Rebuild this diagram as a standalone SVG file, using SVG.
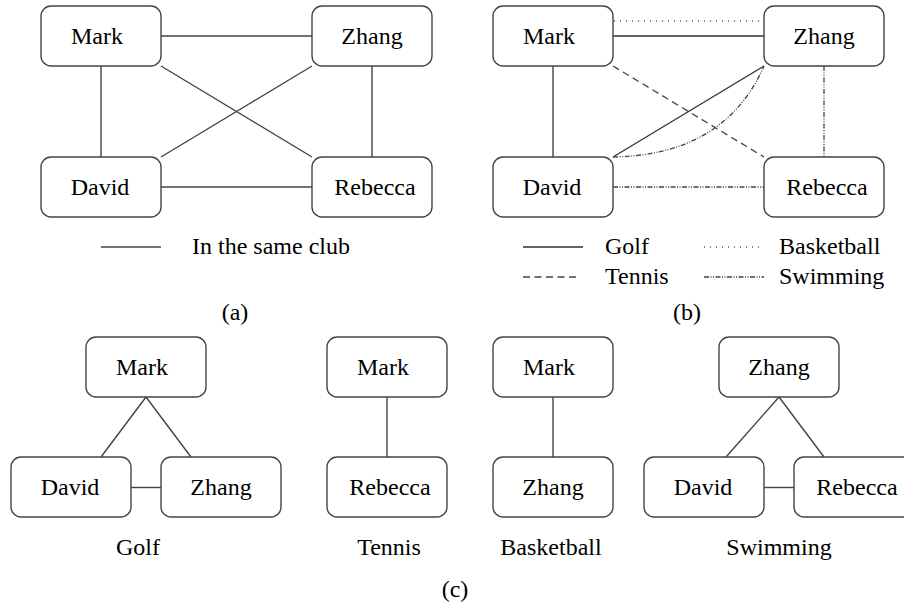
<svg xmlns="http://www.w3.org/2000/svg" width="904" height="608" viewBox="0 0 904 608" font-family="'Liberation Serif', 'Times New Roman', 'DejaVu Serif', serif">
<style>
.box{fill:#fff;stroke:#444;stroke-width:1.4}
text{font-family:'Liberation Serif','Times New Roman','DejaVu Serif',serif;font-size:24px;fill:#000}
.t{text-anchor:middle}
.e{fill:none;stroke:#444;stroke-width:1.4}
.golf{fill:none;stroke:#333;stroke-width:1.3}
.tennis{fill:none;stroke:#444;stroke-width:1.3;stroke-dasharray:7 4.5}
.bball{fill:none;stroke:#555;stroke-width:1.3;stroke-dasharray:1 5}
.swim{fill:none;stroke:#444;stroke-width:1.3;stroke-dasharray:5 1.5 1 1.5 1 1.5}
</style>
<rect width="904" height="608" fill="#fff"/>

<g id="connectors">
  <line class="e" x1="161" y1="36" x2="312" y2="36"/>
  <line class="e" x1="101" y1="66" x2="101" y2="157"/>
  <line class="e" x1="372" y1="66" x2="372" y2="157"/>
  <line class="e" x1="161" y1="187" x2="312" y2="187"/>
  <line class="e" x1="161" y1="66" x2="312" y2="157"/>
  <line class="e" x1="312" y1="66" x2="161" y2="157"/>
  <line class="bball" x1="614" y1="21" x2="764" y2="21"/>
  <line class="golf" x1="613" y1="36" x2="764" y2="36"/>
  <line class="golf" x1="553" y1="66" x2="553" y2="157"/>
  <line class="tennis" x1="613" y1="66" x2="764" y2="157"/>
  <line class="golf" x1="613" y1="157" x2="764" y2="66"/>
  <path class="swim" d="M613,157 Q725,155 764,66"/>
  <line class="swim" x1="824" y1="66" x2="824" y2="157"/>
  <line class="swim" x1="613" y1="187" x2="764" y2="187"/>
  <line class="e" x1="146" y1="397" x2="101" y2="457"/>
  <line class="e" x1="146" y1="397" x2="191" y2="457"/>
  <line class="e" x1="131" y1="487.5" x2="161" y2="487.5"/>
  <line class="e" x1="387" y1="397" x2="387" y2="457"/>
  <line class="e" x1="553" y1="397" x2="553" y2="457"/>
  <line class="e" x1="779" y1="397" x2="726" y2="457"/>
  <line class="e" x1="779" y1="397" x2="824" y2="457"/>
  <line class="e" x1="764" y1="487.5" x2="794" y2="487.5"/>
</g>

<g id="a-mark"><rect class="box" x="41" y="6" width="120" height="60" rx="10"/><text class="t" x="97" y="44">Mark</text></g>
<g id="a-zhang"><rect class="box" x="312" y="6" width="120" height="60" rx="10"/><text class="t" x="372" y="44">Zhang</text></g>
<g id="a-david"><rect class="box" x="41" y="157" width="120" height="60" rx="10"/><text class="t" x="100" y="195">David</text></g>
<g id="a-rebecca"><rect class="box" x="312" y="157" width="120" height="60" rx="10"/><text class="t" x="375" y="195">Rebecca</text></g>
<g id="a-legend">
  <line class="e" x1="101" y1="247" x2="161" y2="247"/>
  <text x="192" y="254">In the same club</text>
</g>
<text class="t" x="235" y="320">(a)</text>

<g id="b-mark"><rect class="box" x="493" y="6" width="120" height="60" rx="10"/><text class="t" x="549" y="44">Mark</text></g>
<g id="b-zhang"><rect class="box" x="764" y="6" width="120" height="60" rx="10"/><text class="t" x="824" y="44">Zhang</text></g>
<g id="b-david"><rect class="box" x="493" y="157" width="120" height="60" rx="10"/><text class="t" x="552" y="195">David</text></g>
<g id="b-rebecca"><rect class="box" x="764" y="157" width="120" height="60" rx="10"/><text class="t" x="827" y="195">Rebecca</text></g>
<g id="b-legend">
  <line class="golf" x1="523" y1="247" x2="583" y2="247"/>
  <text x="605" y="254">Golf</text>
  <line class="bball" x1="704" y1="247" x2="764" y2="247"/>
  <text x="779" y="254">Basketball</text>
  <line class="tennis" x1="523" y1="277" x2="580" y2="277"/>
  <text x="605" y="284">Tennis</text>
  <line class="swim" x1="704" y1="277" x2="764" y2="277"/>
  <text x="779" y="284">Swimming</text>
</g>
<text class="t" x="687" y="320">(b)</text>

<g id="c-golf-mark"><rect class="box" x="86" y="337" width="120" height="60" rx="10"/><text class="t" x="142" y="375">Mark</text></g>
<g id="c-golf-david"><rect class="box" x="11" y="457" width="120" height="60" rx="10"/><text class="t" x="70" y="495">David</text></g>
<g id="c-golf-zhang"><rect class="box" x="161" y="457" width="120" height="60" rx="10"/><text class="t" x="221" y="495">Zhang</text></g>
<text class="t" x="138" y="555">Golf</text>

<g id="c-tennis-mark"><rect class="box" x="327" y="337" width="120" height="60" rx="10"/><text class="t" x="383" y="375">Mark</text></g>
<g id="c-tennis-rebecca"><rect class="box" x="327" y="457" width="120" height="60" rx="10"/><text class="t" x="390" y="495">Rebecca</text></g>
<text class="t" x="389" y="555">Tennis</text>

<g id="c-bb-mark"><rect class="box" x="493" y="337" width="120" height="60" rx="10"/><text class="t" x="549" y="375">Mark</text></g>
<g id="c-bb-zhang"><rect class="box" x="493" y="457" width="120" height="60" rx="10"/><text class="t" x="553" y="495">Zhang</text></g>
<text class="t" x="551" y="555">Basketball</text>

<g id="c-sw-zhang"><rect class="box" x="719" y="337" width="120" height="60" rx="10"/><text class="t" x="779" y="375">Zhang</text></g>
<g id="c-sw-david"><rect class="box" x="644" y="457" width="120" height="60" rx="10"/><text class="t" x="703" y="495">David</text></g>
<g id="c-sw-rebecca"><rect class="box" x="794" y="457" width="120" height="60" rx="10"/><text class="t" x="857" y="495">Rebecca</text></g>
<text class="t" x="779" y="555">Swimming</text>

<text class="t" x="455" y="597">(c)</text>
</svg>
